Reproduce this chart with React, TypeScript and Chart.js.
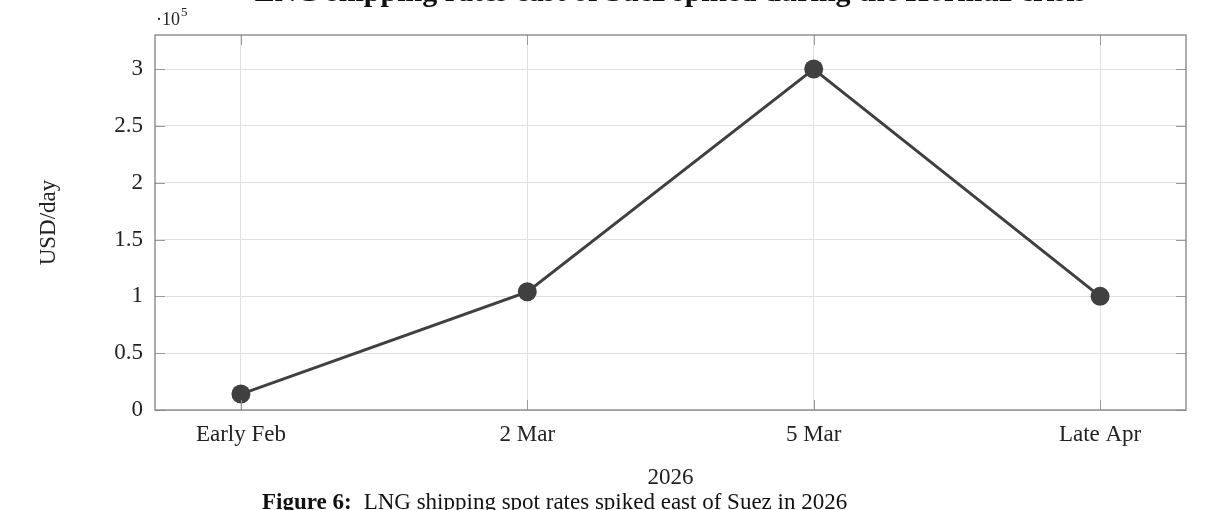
import React, { useEffect, useRef } from "react";
import { Chart, registerables } from "chart.js";

Chart.register(...registerables);

const categories: string[] = ["Early Feb", "2 Mar", "5 Mar", "Late Apr"];
const rates: number[] = [14000, 104000, 300000, 100000];
const yTickValues: number[] = [0, 50000, 100000, 150000, 200000, 250000, 300000];
const chartTitle = "LNG shipping rates east of Suez spiked during the Hormuz crisis";
const captionLabel = "Figure 6:";
const captionText = "LNG shipping spot rates spiked east of Suez in 2026";
const xAxisTitle = "2026";
const yAxisTitle = "USD/day";

const SERIF = "'Liberation Serif', 'DejaVu Serif', serif";
const LINE = "#404040";
const FS = 23;

const decor = {
  id: "decor",
  afterDraw(chart: any) {
    const { ctx, chartArea } = chart;
    const { left, right, top, bottom } = chartArea;
    const xs = chart.scales.x;
    const ys = chart.scales.y;
    ctx.save();
    // inner tick marks
    ctx.strokeStyle = "#9a9a9a";
    ctx.lineWidth = 1;
    const tl = 10;
    ctx.beginPath();
    for (const v of yTickValues) {
      const py = Math.round(ys.getPixelForValue(v)) + 0.5;
      ctx.moveTo(left, py);
      ctx.lineTo(left + tl, py);
      ctx.moveTo(right, py);
      ctx.lineTo(right - tl, py);
    }
    categories.forEach((_, i) => {
      const px = Math.round(xs.getPixelForValue(i)) + 0.5;
      ctx.moveTo(px, bottom);
      ctx.lineTo(px, bottom - tl);
      ctx.moveTo(px, top);
      ctx.lineTo(px, top + tl);
    });
    ctx.stroke();
    // frame
    ctx.strokeStyle = "#808080";
    ctx.lineWidth = 1.3;
    ctx.strokeRect(left, top, right - left, bottom - top);

    // exponent label
    ctx.fillStyle = "#222";
    ctx.textBaseline = "alphabetic";
    ctx.textAlign = "left";
    ctx.font = `18px ${SERIF}`;
    const base = "\u00b710";
    ctx.fillText(base, left + 1, 25);
    const w = ctx.measureText(base).width;
    ctx.font = `13px ${SERIF}`;
    ctx.fillText("5", left + 1 + w + 1, 16);

    // top title (partly cut off)
    ctx.font = `bold 30px ${SERIF}`;
    ctx.textAlign = "center";
    ctx.fillStyle = "#111";
    ctx.fillText(chartTitle, (left + right) / 2, 1);

    // caption
    ctx.textAlign = "left";
    const startX = 262;
    ctx.font = `bold ${FS}px ${SERIF}`;
    ctx.fillText(captionLabel, startX, 509);
    const lw = ctx.measureText(captionLabel).width;
    ctx.font = `${FS}px ${SERIF}`;
    ctx.fillText(captionText, startX + lw + 12, 509);
    ctx.restore();
  },
};

export default function App() {
  const ref = useRef<HTMLCanvasElement | null>(null);

  useEffect(() => {
    if (!ref.current) return;
    const chart = new Chart(ref.current, {
      type: "line",
      data: {
        datasets: [
          {
            data: rates.map((v, i) => ({ x: i, y: v })),
            borderColor: LINE,
            backgroundColor: LINE,
            borderWidth: 3,
            pointRadius: 9.5,
            pointHoverRadius: 9.5,
            pointBackgroundColor: LINE,
            pointBorderColor: LINE,
            pointBorderWidth: 0,
            tension: 0,
          },
        ],
      },
      options: {
        responsive: false,
        animation: false,
        devicePixelRatio: 1,
        layout: { padding: { top: 35, right: 44, left: 0, bottom: 0 } },
        plugins: {
          legend: { display: false },
          tooltip: { enabled: false },
          title: { display: false },
        },
        scales: {
          x: {
            type: "linear",
            min: -0.3,
            max: 3.3,
            afterBuildTicks: (s: any) => {
              s.ticks = categories.map((_, i) => ({ value: i }));
            },
            afterFit: (s: any) => {
              s.height = 100;
            },
            grid: { color: "#e0e0e0", lineWidth: 1, drawTicks: false },
            border: { display: false },
            ticks: {
              padding: 11,
              color: "#222",
              font: { family: SERIF, size: FS },
              maxRotation: 0,
              autoSkip: false,
              callback: (v: any) => categories[v as number] ?? "",
            },
            title: {
              display: true,
              text: xAxisTitle,
              color: "#222",
              font: { family: SERIF, size: FS },
              padding: { top: 0, bottom: 18 },
            },
          },
          y: {
            type: "linear",
            min: 0,
            max: 330000,
            afterBuildTicks: (s: any) => {
              s.ticks = yTickValues.map((v) => ({ value: v }));
            },
            afterFit: (s: any) => {
              s.width = 155;
            },
            grid: { color: "#e0e0e0", lineWidth: 1, drawTicks: false },
            border: { display: false },
            ticks: {
              padding: 12,
              color: "#222",
              font: { family: SERIF, size: FS },
              callback: (v: any) => String((v as number) / 100000),
            },
            title: {
              display: true,
              text: yAxisTitle,
              color: "#222",
              font: { family: SERIF, size: FS },
              padding: { top: 35, bottom: 0 },
            },
          },
        },
      },
      plugins: [decor],
    });
    return () => chart.destroy();
  }, []);

  return (
    <div
      style={{
        position: "fixed",
        left: 0,
        top: 0,
        width: 1230,
        height: 510,
        overflow: "hidden",
        background: "#fff",
      }}
    >
      <canvas ref={ref} width={1230} height={510} style={{ display: "block" }} />
    </div>
  );
}
